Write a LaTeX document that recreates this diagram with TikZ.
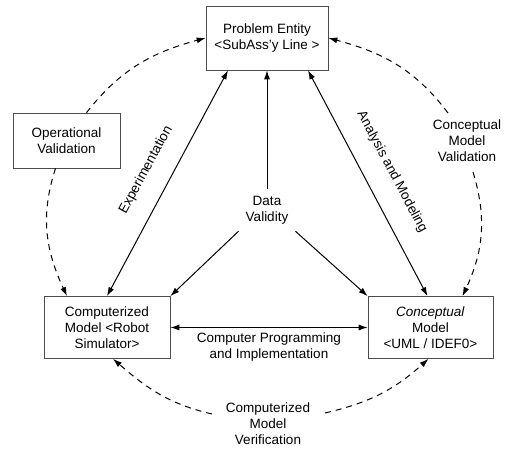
\documentclass[tikz,border=0pt]{standalone}
\usepackage{fontspec}
\setmainfont{Liberation Sans}
\usetikzlibrary{arrows.meta,calc}
\begin{document}
\begin{tikzpicture}[x=1pt,y=1pt,
  txt/.style={font=\fontsize{13.5}{16}\selectfont, align=center},
  box/.style={txt, draw=black!70, line width=0.7pt, inner sep=0pt},
  lbl/.style={txt, inner sep=2pt},
  tipL/.tip={Latex[length=9pt,width=6pt]},
  solidarr/.style={line width=1pt, -tipL},
  botharr/.style={line width=1pt, tipL-tipL},
  dasharr/.style={line width=1pt, dash pattern=on 6pt off 5pt, -tipL}
]
\useasboundingbox (0,0) rectangle (509,449);
% boxes
\node[box, minimum width=122pt, minimum height=64pt] (prob) at (267,411) {Problem Entity\\<SubAss'y Line >};
\node[box, minimum width=107pt, minimum height=55pt] (opval) at (66.5,308.5) {Operational\\Validation};
\node[box, minimum width=126pt, minimum height=62pt] (comp) at (107,121.5) {Computerized\\Model <Robot\\Simulator>};
\node[box, minimum width=125pt, minimum height=62pt] (conc) at (430.5,121.5) {\textit{Conceptual}\\Model\\<UML / IDEF0>};
% labels
\node[lbl, inner sep=7pt] (data) at (267,239) {Data\\Validity};
\node[lbl] (cmv) at (467,308) {Conceptual\\Model\\Validation};
\node[lbl] (cver) at (268,25) {Computerized\\Model\\Verification};
\node[lbl] (cpi) at (269,102) {Computer Programming\\and Implementation};
\node[lbl, rotate=61.5] (exp) at (146,279) {Experimentation};
\node[lbl, rotate=-62] (anm) at (392,277) {Analysis and Modeling};
% solid connectors
\draw[botharr] (comp.north) -- ([xshift=-39pt]prob.south);
\draw[botharr] ([xshift=-3pt]conc.north) -- ([xshift=41pt]prob.south);
\draw[solidarr] (data.north) -- (prob.south);
\draw[solidarr] (data.south west) -- (comp.north east);
\draw[solidarr] (data.south east) -- (conc.north west);
\draw[botharr] (comp.east) -- (conc.west);
% dashed connectors
\coordinate (c1) at ([xshift=20pt]opval.north);
\coordinate (c2) at ([xshift=-11pt]opval.south);
\coordinate (c3) at (448,336);
\coordinate (c4) at (473,277);
\coordinate (c5) at (325,36);
\coordinate (c6) at (212,35);
\draw[dasharr] (c1) to[out=52,in=195] (prob.west);
\draw[dasharr] (c2) to[out=252,in=115] ([xshift=-40pt]comp.north);
\draw[dasharr] (c3) to[out=127,in=-15] (prob.east);
\draw[dasharr] (c4) to[out=-73,in=65] ([xshift=32pt]conc.north);
\draw[dasharr] (c5) to[out=13,in=222] ([xshift=-2pt]conc.south);
\draw[dasharr] (c6) to[out=167,in=-41] ([xshift=6pt]comp.south);
\end{tikzpicture}
\end{document}
